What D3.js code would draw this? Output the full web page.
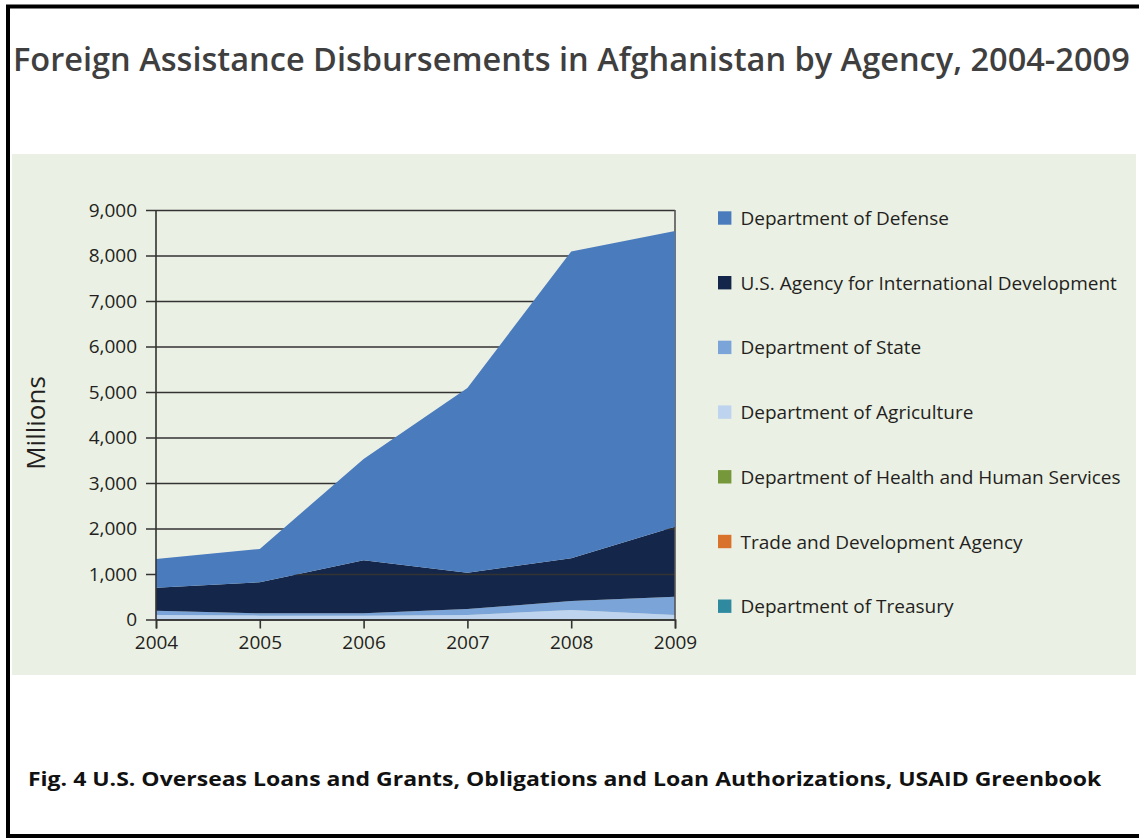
<!DOCTYPE html>
<html>
<head>
<meta charset="utf-8">
<script src="https://cdn.jsdelivr.net/npm/d3@7"></script>
<style>
  body { margin: 0; background: #ffffff; }
  svg { display: block; }
  .tick text { font-family: "Open Sans", sans-serif; fill: #231f20; }
</style>
</head>
<body>
<svg id="chart" width="1139" height="839"></svg>
<script>
// values in millions of US$
var years = [2004, 2005, 2006, 2007, 2008, 2009]
var agencies = ["Department of Defense", "U.S. Agency for International Development",
  "Department of State", "Department of Agriculture", "Department of Health and Human Services",
  "Trade and Development Agency", "Department of Treasury"]
var colors = ["#4a7bbd", "#14274a", "#7ba4d8", "#bed4ee", "#77983a", "#d9722a", "#2f8aa0"]

var defense = [630, 732, 2230, 4060, 6745, 6500]
var usaid = [510, 682, 1160, 800, 940, 1540]
var state = [90, 51, 60, 130, 195, 400]
var agriculture = [94, 79, 72, 92, 200, 86]
var hhs = [3, 3, 5, 5, 6, 8]
var tda = [1, 1, 1, 1, 1, 1]
var treasury = [2, 2, 2, 2, 3, 5]

var yTicks = [0, 1000, 2000, 3000, 4000, 5000, 6000, 7000, 8000, 9000]

var titleText = "Foreign Assistance Disbursements in Afghanistan by Agency, 2004-2009"
var captionText = "Fig. 4 U.S. Overseas Loans and Grants, Obligations and Loan Authorizations, USAID Greenbook"

var seriesValues = [defense, usaid, state, agriculture, hhs, tda, treasury]

var rows = years.map(function(yr, i) {
  var r = { year: yr }
  agencies.forEach(function(a, k) { r[a] = seriesValues[k][i] })
  return r
})

var svg = d3.select("#chart")

// green panel
svg.append("rect")
  .attr("x", 12).attr("y", 154)
  .attr("width", 1124).attr("height", 521)
  .attr("fill", "#ebf0e4")

var x = d3.scaleLinear().domain([2004, 2009]).range([156, 675])
var y = d3.scaleLinear().domain([0, 9000]).range([619.5, 210])

// bottom agency first
var stack = d3.stack().keys(agencies.slice().reverse())
var layers = stack(rows)

var area = d3.area()
  .x(function(d) { return x(d.data.year) })
  .y0(function(d) { return y(d[0]) })
  .y1(function(d) { return y(d[1]) })

function colorOf(name) {
  return colors[agencies.indexOf(name)]
}

var plot = svg.append("g")

// everything but defense goes under the gridlines
plot.selectAll("path.lower")
  .data(layers.filter(function(l) { return l.key != agencies[0] }))
  .enter()
  .append("path")
    .attr("class", "lower")
    .attr("d", area)
    .attr("fill", function(d) { return colorOf(d.key) })

var grid = plot.append("g")
  .attr("transform", "translate(146,0)")
  .call(d3.axisLeft(y).tickValues(yTicks).tickSize(-529).tickPadding(9)
    .tickFormat(d3.format(",")))
grid.select(".domain").remove()
grid.selectAll("line").attr("stroke", "#333333").attr("stroke-width", 1.6)
grid.selectAll("text").style("font-size", "19px")

// right hand frame line
plot.append("line")
  .attr("x1", x(2009)).attr("x2", x(2009))
  .attr("y1", y(9000)).attr("y2", y(0))
  .attr("stroke", "#555555").attr("stroke-width", 1.6)

plot.selectAll("path.top")
  .data(layers.filter(function(l) { return l.key == agencies[0] }))
  .enter()
  .append("path")
    .attr("class", "top")
    .attr("d", area)
    .attr("fill", function(d) { return colorOf(d.key) })

// axes on top
var xAxis = plot.append("g")
  .attr("transform", "translate(0," + y(0) + ")")
  .call(d3.axisBottom(x).tickValues(years).tickSize(9).tickPadding(7)
    .tickFormat(d3.format("d")))
xAxis.select(".domain").attr("stroke", "#333333").attr("stroke-width", 1.6)
xAxis.selectAll("line").attr("stroke", "#333333").attr("stroke-width", 1.6)
xAxis.selectAll("text").style("font-size", "19px")

plot.append("line")
  .attr("x1", x(2004)).attr("x2", x(2004))
  .attr("y1", y(9000)).attr("y2", y(0))
  .attr("stroke", "#333333").attr("stroke-width", 1.6)

plot.append("text")
  .attr("transform", "translate(45,423) rotate(-90)")
  .attr("text-anchor", "middle")
  .style("font-family", "'Open Sans', sans-serif")
  .style("font-size", "26px")
  .attr("fill", "#231f20")
  .text("Millions")

// legend
var legend = svg.append("g")
  .selectAll("g")
  .data(agencies)
  .enter()
  .append("g")
    .attr("transform", function(d, i) { return "translate(718," + (218 + i * 64.7) + ")" })

legend.append("rect")
  .attr("x", 0).attr("y", -6.7)
  .attr("width", 13.4).attr("height", 13.4)
  .attr("fill", function(d, i) { return colors[i] })

legend.append("text")
  .attr("x", 22.5).attr("y", 7)
  .style("font-family", "'Open Sans', sans-serif")
  .style("font-size", "19px")
  .attr("fill", "#231f20")
  .text(function(d) { return d })

// squeeze a text sideways so it spans `width` px (original uses Calibri)
function fitText(sel, left, base, width) {
  var w = sel.node().getComputedTextLength()
  sel.attr("transform", "translate(" + left + "," + base + ") scale(" + (width / w) + ",1)")
}

var title = svg.append("text")
  .style("font-family", "'Open Sans', sans-serif")
  .style("font-size", "33px")
  .style("font-weight", "600")
  .attr("fill", "#3f3f3f")
  .text(titleText)
fitText(title, 13, 71, 1117)

var caption = svg.append("text")
  .style("font-family", "'Open Sans', sans-serif")
  .style("font-size", "19px")
  .style("font-weight", "bold")
  .attr("fill", "#111111")
  .text(captionText)
fitText(caption, 28, 786, 1074)

// outer frame
svg.append("rect")
  .attr("x", 8).attr("y", 6.5)
  .attr("width", 1140).attr("height", 829.5)
  .attr("fill", "none")
  .attr("stroke", "#000000")
  .attr("stroke-width", 4)
</script>
</body>
</html>
